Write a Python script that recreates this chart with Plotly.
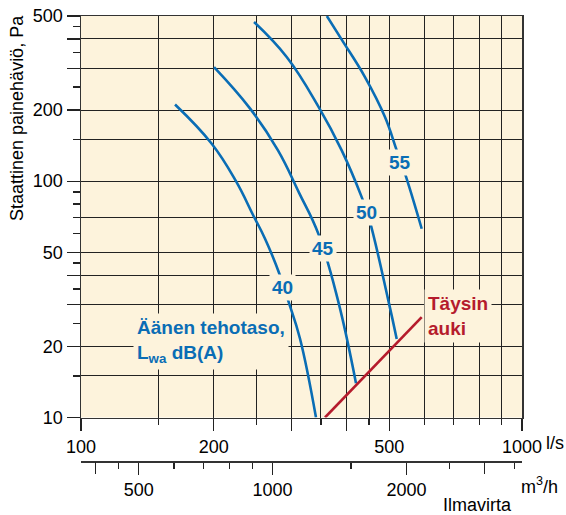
import plotly.graph_objects as go
import math

# ---------------- data ----------------
# Sound power level curves (flow l/s, static pressure Pa)
c40_q = [163.4, 197.9, 224.6, 245.9, 261.4, 282.7, 294.9, 313.7, 341.1]
c40_p = [211, 144, 100, 71.6, 57.1, 39.9, 31.3, 21.6, 10]
c45_q = [200.3, 241.6, 279.7, 312.1, 345.2, 382.6, 420.3]
c45_p = [304, 203.3, 135, 89.5, 60, 31.3, 13.97]
c50_q = [246.8, 292.7, 345.2, 390.1, 433.0, 449.9, 497.6, 519.9]
c50_p = [471.6, 335.3, 207.3, 135, 85.6, 69.6, 31.3, 21.5]
c55_q = [361, 390.1, 440.5, 489.0, 519.9, 542.9, 592.4]
c55_p = [500, 397.4, 275.9, 186.9, 135, 107.6, 62.9]
curve_labels = ["40", "45", "50", "55"]
label_q = [287.1, 353.8, 442.9, 529.0]
label_p = [35.5, 51.9, 73.7, 120.1]

open_q = [357.5, 592.4]   # "Täysin auki"
open_p = [10, 26.6]

x_labeled = [100, 200, 500, 1000]
x_long_unlabeled = [300, 400]
x_minor = [150, 250, 350, 450, 600, 700, 800, 900]
y_labeled = [10, 20, 50, 100, 200, 500]
y_long_unlabeled = [30, 40, 300, 400]
y_minor = [15, 25, 35, 45, 60, 70, 80, 90, 150, 250, 350, 450]
y_extra_grid = [15, 70, 150]
m3_labeled = [500, 1000, 2000]
m3_long_unlabeled = [400, 3000]
m3_minor = [450, 600, 700, 800, 900, 1500, 2500, 3500]

# ---------------- style ----------------
W, H = 566, 515
P_LEFT, P_RIGHT, P_TOP, P_BOTTOM, P_AX2 = 81, 522, 16, 417.5, 461
ML, MT, MR = P_LEFT, P_TOP, 42
MB = H - P_AX2
PW, PH = W - ML - MR, H - MT - MB
BLUE = "#0a6db5"
RED = "#b51b2c"
CREAM = "#fdf3dc"
GRID = "#222222"
FONT = "Liberation Sans, Arial, sans-serif"

def px_x(p):
    return (p - ML) / PW

def px_y(p):
    return (H - MB - p) / PH

ppd = P_RIGHT - P_LEFT  # pixels per decade

fig = go.Figure()
for q, p in [(c40_q, c40_p), (c45_q, c45_p), (c50_q, c50_p), (c55_q, c55_p)]:
    fig.add_trace(go.Scatter(x=q, y=p, mode="lines",
                             line=dict(color=BLUE, width=2.6, shape="spline", smoothing=1.2),
                             hoverinfo="skip", showlegend=False))
fig.add_trace(go.Scatter(x=open_q, y=open_p, mode="lines",
                         line=dict(color=RED, width=2.6),
                         hoverinfo="skip", showlegend=False))
# dummy traces to bind secondary axes
for xa, ya in [("x2", "y"), ("x3", "y"), ("x4", "y"), ("x", "y3"), ("x", "y4")]:
    fig.add_trace(go.Scatter(x=[None], y=[None], xaxis=xa, yaxis=ya, showlegend=False,
                             hoverinfo="skip"))

yr = [1, math.log10(500)]
xr = [2, 3]
m3r = [math.log10(360) + 5.7 / ppd, math.log10(3600) + 2 / ppd]
m3dom = [px_x(P_LEFT + 5.7), 1]
xdom = [0, ppd / PW]

common = dict(automargin=False, zeroline=False, tickcolor=GRID, tickwidth=1.3,
              ticklabeloverflow="allow")

fig.update_layout(
    width=W, height=H,
    margin=dict(l=ML, r=MR, t=MT, b=MB, autoexpand=False),
    paper_bgcolor="white", plot_bgcolor=CREAM,
    font=dict(family=FONT, size=18, color="black"),
    showlegend=False, hovermode=False,
    xaxis=dict(type="log", range=xr, domain=xdom,
               tickvals=x_labeled, ticktext=[str(v) for v in x_labeled], ticks="outside",
               ticklen=12, showgrid=True, gridcolor=GRID, gridwidth=1,
               minor=dict(tickvals=x_minor, ticks="outside", ticklen=6, tickwidth=1.3,
                          tickcolor=GRID, showgrid=True, gridcolor=GRID, gridwidth=1),
               showline=True, linecolor="#333", linewidth=1.5, mirror=True,
               tickfont=dict(size=18), **common),
    xaxis3=dict(type="log", range=xr, domain=xdom, overlaying="x", anchor="y",
                side="bottom", tickvals=x_long_unlabeled, showticklabels=False,
                ticks="outside", ticklen=12, showgrid=True, gridcolor=GRID, gridwidth=1,
                showline=False, **common),
    yaxis=dict(type="log", range=yr, domain=[px_y(P_BOTTOM), 1],
               tickvals=y_labeled, ticktext=[str(v) for v in y_labeled], ticks="outside",
               ticklen=13, showgrid=True, gridcolor=GRID, gridwidth=1,
               minor=dict(tickvals=y_minor, ticks="outside", ticklen=7, tickwidth=1.3,
                          tickcolor=GRID, showgrid=False),
               showline=True, linecolor="#333", linewidth=1.5, mirror=True,
               tickfont=dict(size=18), **common),
    yaxis3=dict(type="log", range=yr, overlaying="y", anchor="x", side="left",
                tickvals=y_long_unlabeled, showticklabels=False, ticks="outside", ticklen=13,
                showgrid=True, gridcolor=GRID, gridwidth=1, showline=False, **common),
    yaxis4=dict(type="log", range=yr, overlaying="y", anchor="x", side="left",
                tickvals=y_extra_grid, showticklabels=False, ticks="",
                showgrid=True, gridcolor=GRID, gridwidth=1, showline=False, **common),
    xaxis2=dict(type="log", overlaying="x", anchor="free", position=0, side="bottom",
                domain=m3dom, range=m3r,
                tickvals=m3_labeled, ticktext=[str(v) for v in m3_labeled], ticks="outside",
                ticklen=12,
                minor=dict(tickvals=m3_minor, ticks="outside", ticklen=6, tickwidth=1.3,
                           tickcolor=GRID, showgrid=False),
                showgrid=False, showline=True, linecolor="#333", linewidth=1.5,
                tickfont=dict(size=18), **common),
    xaxis4=dict(type="log", overlaying="x", anchor="free", position=0, side="bottom",
                domain=m3dom, range=m3r, tickvals=m3_long_unlabeled, showticklabels=False,
                ticks="outside", ticklen=12, showgrid=False, showline=False, **common),
)

ann = []
for t, q, p in zip(curve_labels, label_q, label_p):
    ann.append(dict(x=math.log10(q), y=math.log10(p), xref="x", yref="y", text=f"<b>{t}</b>",
                    showarrow=False, font=dict(size=19, color=BLUE), bgcolor=CREAM,
                    borderpad=2, xanchor="center", yanchor="middle"))
ann.append(dict(x=math.log10(131.2), y=math.log10(20.97), xref="x", yref="y",
                text="<b>Äänen tehotaso,<br>L<sub>wa</sub> dB(A)</b>", align="left",
                showarrow=False, font=dict(size=19, color=BLUE), bgcolor=CREAM,
                borderpad=3, xanchor="left", yanchor="middle"))
ann.append(dict(x=math.log10(599.6), y=math.log10(26.8), xref="x", yref="y",
                text="<b>Täysin<br>auki</b>", align="left",
                showarrow=False, font=dict(size=19, color=RED), bgcolor=CREAM,
                borderpad=3, xanchor="left", yanchor="middle"))
ann.append(dict(x=px_x(17), y=px_y(118), xref="paper", yref="paper",
                text="Staattinen painehäviö, Pa", textangle=-90, showarrow=False,
                font=dict(size=18), xanchor="center", yanchor="middle"))
ann.append(dict(x=px_x(555), y=px_y(443), xref="paper", yref="paper", text="l/s",
                showarrow=False, font=dict(size=18), xanchor="center", yanchor="middle"))
ann.append(dict(x=px_x(539), y=px_y(486), xref="paper", yref="paper", text="m<sup>3</sup>/h",
                showarrow=False, font=dict(size=18), xanchor="center", yanchor="middle"))
ann.append(dict(x=px_x(477), y=px_y(505), xref="paper", yref="paper", text="Ilmavirta",
                showarrow=False, font=dict(size=18), xanchor="center", yanchor="middle"))
fig.update_layout(annotations=ann)

fig.write_html("out.html", config={"displayModeBar": False, "staticPlot": True},
               post_script="document.body.style.margin='0px';document.body.style.overflow='hidden';")
